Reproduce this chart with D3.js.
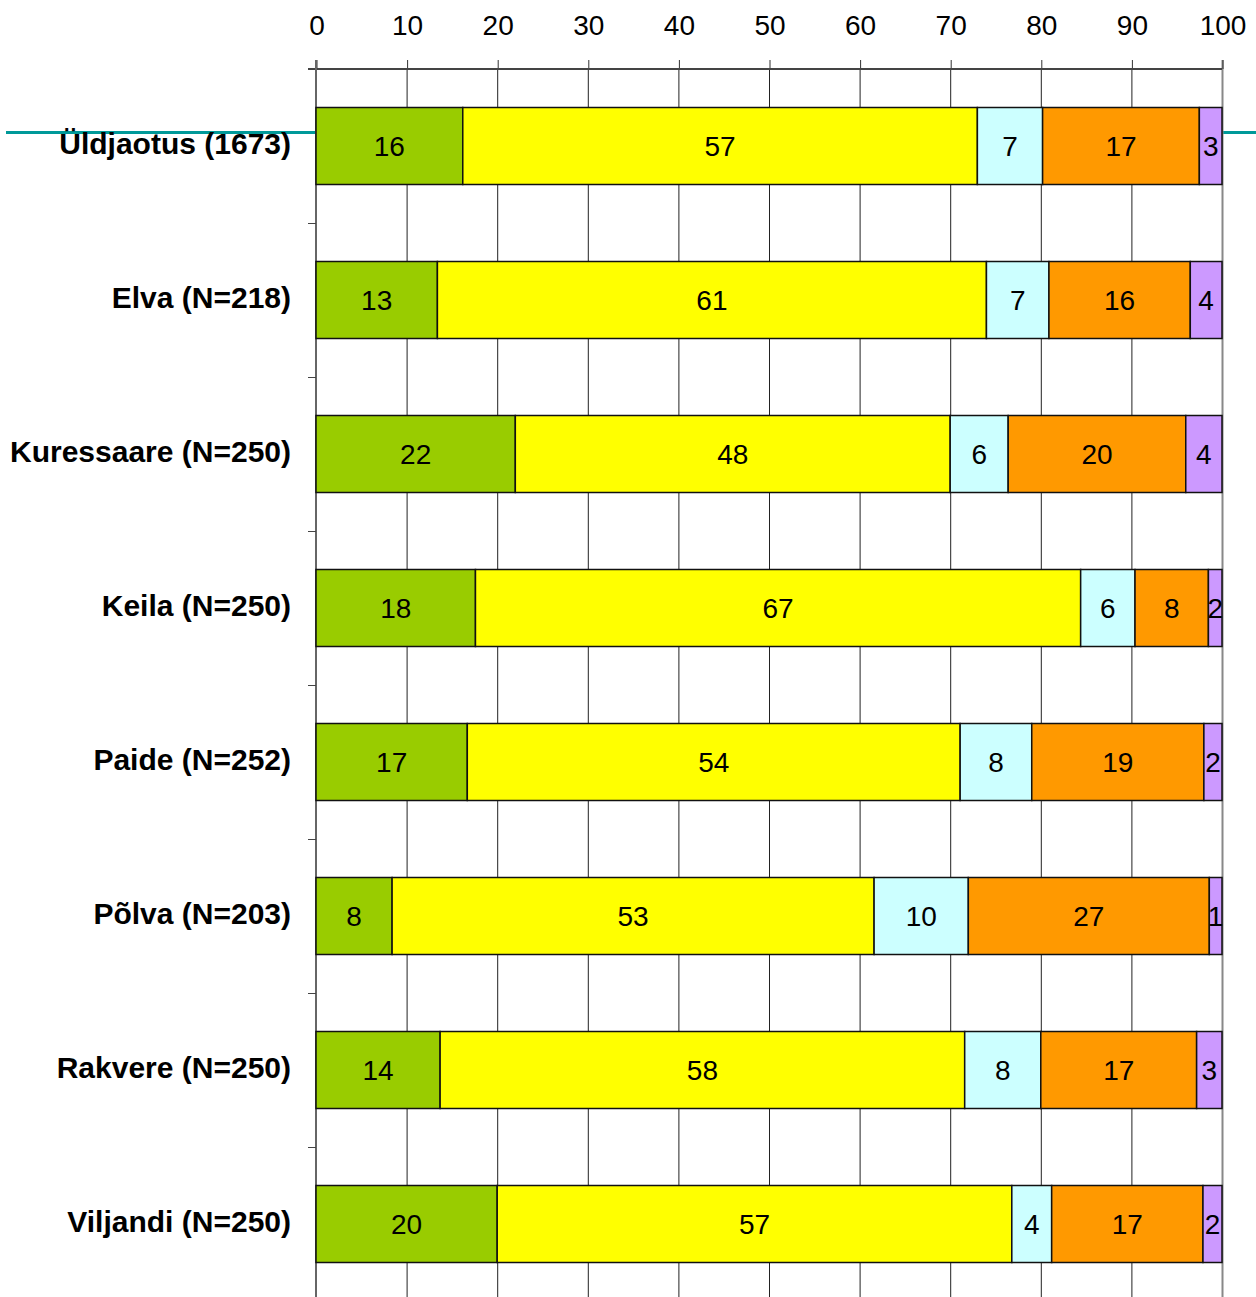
<!DOCTYPE html>
<html>
<head>
<meta charset="utf-8">
<script src="https://cdn.jsdelivr.net/npm/d3@7"></script>
<style>
  body { margin: 0; background: #fff; }
  svg { display: block; font-family: "Liberation Sans", Arial, sans-serif; }
</style>
</head>
<body>
<svg id="chart" width="1256" height="1297"></svg>
<script>
// categories, top to bottom
const categories = [
  "Üldjaotus (1673)", "Elva (N=218)", "Kuressaare (N=250)", "Keila (N=250)",
  "Paide (N=252)", "Põlva (N=203)", "Rakvere (N=250)", "Viljandi (N=250)"
];

// the five answer groups (left to right), values in %
const s1 = [16.2, 13.4, 22.0, 17.6, 16.7, 8.4, 13.7, 20.0];
const s2 = [56.8, 60.6, 48.0, 66.8, 54.4, 53.2, 57.9, 56.8];
const s3 = [7.2, 6.9, 6.4, 6.0, 7.9, 10.4, 8.4, 4.4];
const s4 = [17.3, 15.6, 19.6, 8.1, 19.0, 26.6, 17.2, 16.7];
const s5 = [2.5, 3.5, 4.0, 1.5, 2.0, 1.4, 2.8, 2.1];

const seriesColors = ["#99cc00", "#ffff00", "#ccffff", "#ff9900", "#cc99ff"];
const xTicks = [0, 10, 20, 30, 40, 50, 60, 70, 80, 90, 100];

const svg = d3.select("#chart");
const font = "'Liberation Sans', Arial, sans-serif";

// plot area
const plotLeft = 316, plotRight = 1222, plotTop = 69, plotBottom = 1301;

const x = d3.scaleLinear().domain([0, 100]).range([plotLeft, plotRight]);
const y = d3.scaleBand().domain(categories).range([plotTop, plotBottom]).paddingInner(0.5).paddingOuter(0.25);

// build rows for the stack
const keys = ["s1", "s2", "s3", "s4", "s5"];
const rows = categories.map((c, i) => ({
  cat: c, s1: s1[i], s2: s2[i], s3: s3[i], s4: s4[i], s5: s5[i]
}));
const stacked = d3.stack().keys(keys)(rows);

// odd teal line behind the first bar
svg.append("line")
  .attr("x1", 6).attr("x2", 1256)
  .attr("y1", 132.5).attr("y2", 132.5)
  .attr("stroke", "#009999")
  .attr("stroke-width", 3);

// vertical grid lines
svg.append("g")
  .selectAll("line")
  .data(xTicks.slice(1, -1))
  .join("line")
  .attr("x1", d => x(d) + 0.5).attr("x2", d => x(d) + 0.5)
  .attr("y1", plotTop).attr("y2", 1297)
  .attr("stroke", "#222")
  .attr("stroke-width", 1);

// right border
svg.append("line")
  .attr("x1", plotRight + 0.5).attr("x2", plotRight + 0.5)
  .attr("y1", plotTop - 9).attr("y2", 1297)
  .attr("stroke", "#888")
  .attr("stroke-width", 2);

// top axis
const xAxis = d3.axisTop(x).tickValues(xTicks).tickSize(9).tickPadding(25);
const gx = svg.append("g")
  .attr("transform", `translate(0.5,${plotTop})`)
  .call(xAxis);
gx.select(".domain").remove();
gx.selectAll(".tick line").attr("stroke", "#333");
gx.selectAll(".tick text")
  .attr("font-size", 28)
  .attr("fill", "#000")
  .attr("font-family", font);
svg.append("line")
  .attr("x1", plotLeft - 8).attr("x2", plotRight)
  .attr("y1", plotTop).attr("y2", plotTop)
  .attr("stroke", "#444")
  .attr("stroke-width", 2);

// left axis with ticks between categories
svg.append("line")
  .attr("x1", plotLeft).attr("x2", plotLeft)
  .attr("y1", plotTop - 9).attr("y2", 1297)
  .attr("stroke", "#666")
  .attr("stroke-width", 2);

const step = y.step();
svg.append("g")
  .selectAll("line")
  .data(categories.slice(1))
  .join("line")
  .attr("x1", plotLeft - 8).attr("x2", plotLeft)
  .attr("y1", d => Math.round(y(d) - step * 0.25) + 0.5)
  .attr("y2", d => Math.round(y(d) - step * 0.25) + 0.5)
  .attr("stroke", "#444")
  .attr("stroke-width", 1);

// category labels
svg.append("g")
  .selectAll("text")
  .data(categories)
  .join("text")
  .attr("x", 291)
  .attr("y", d => y(d) + y.bandwidth() / 2)
  .attr("dy", "0.28em")
  .attr("text-anchor", "end")
  .attr("font-size", 30)
  .attr("font-weight", "bold")
  .attr("font-family", font)
  .attr("fill", "#000")
  .text(d => d);

// bars
const groups = svg.append("g")
  .selectAll("g")
  .data(stacked)
  .join("g")
  .attr("fill", (d, i) => seriesColors[i]);

groups.selectAll("rect")
  .data(d => d)
  .join("rect")
  .attr("x", d => x(d[0]))
  .attr("width", d => x(d[1]) - x(d[0]))
  .attr("y", d => y(d.data.cat))
  .attr("height", y.bandwidth())
  .attr("stroke", "#111")
  .attr("stroke-width", 1.5);

// value labels
groups.selectAll("text")
  .data(d => d)
  .join("text")
  .attr("x", d => (x(d[0]) + x(d[1])) / 2)
  .attr("y", d => y(d.data.cat) + y.bandwidth() / 2)
  .attr("dy", "0.36em")
  .attr("text-anchor", "middle")
  .attr("font-size", 28)
  .attr("font-family", font)
  .attr("fill", "#000")
  .text(d => Math.round(d[1] - d[0]));
</script>
</body>
</html>
